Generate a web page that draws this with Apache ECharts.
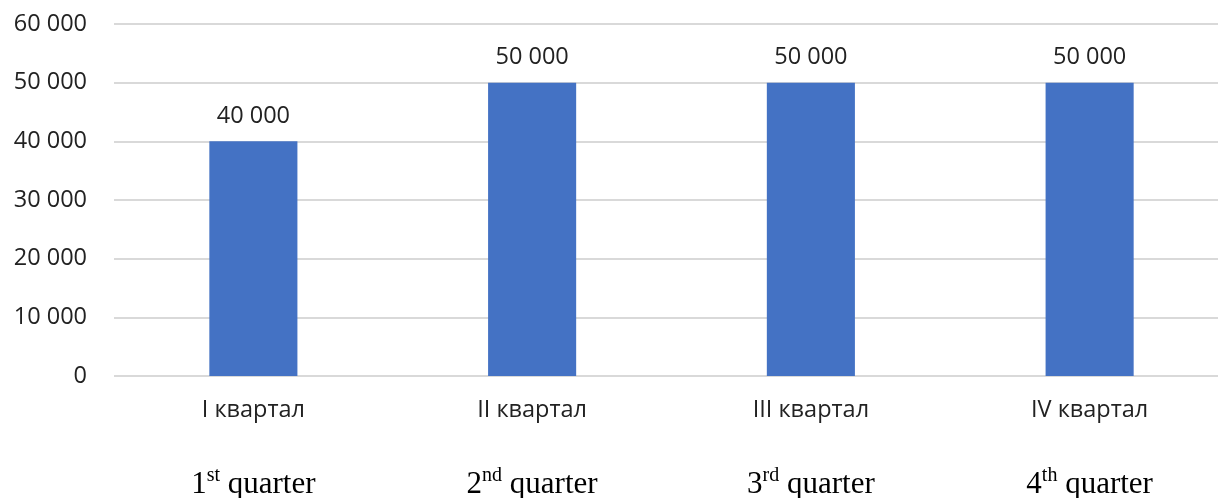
<!DOCTYPE html>
<html>
<head>
<meta charset="utf-8">
<script src="https://cdn.jsdelivr.net/npm/echarts@6/dist/echarts.min.js"></script>
<style>
html,body{margin:0;padding:0;background:#fff;}
#chart{width:1218px;height:498px;}
</style>
</head>
<body>
<div id="chart"></div>
<script>
const categoriesRu = ['I квартал', 'II квартал', 'III квартал', 'IV квартал'];
const categoriesEnNum = ['1', '2', '3', '4'];
const categoriesEnSup = ['st', 'nd', 'rd', 'th'];
const values = [40000, 50000, 50000, 50000];
const yMin = 0, yMax = 60000, yInterval = 10000;

function fmt(v){ return String(v).replace(/\B(?=(\d{3})+(?!\d))/g, ' '); }

const enLabels = categoriesEnNum.map((n, i) => n + '|' + categoriesEnSup[i]);
const txt = '#222222';

const chart = echarts.init(document.getElementById('chart'));
chart.setOption({
  animation: false,
  grid: { left: 114, top: 24, width: 1115, height: 352, containLabel: false, outerBoundsMode: 'none' },
  xAxis: [
    {
      type: 'category',
      data: categoriesRu,
      axisLine: { show: false },
      axisTick: { show: false },
      axisLabel: { color: txt, fontFamily: 'Open Sans', fontSize: 23.5, margin: 22 }
    },
    {
      type: 'category',
      data: enLabels,
      position: 'bottom',
      offset: 90,
      axisLine: { show: false },
      axisTick: { show: false },
      splitLine: { show: false },
      axisLabel: {
        margin: 0,
        formatter: function (v) {
          const p = v.split('|');
          return '{n|' + p[0] + '}{s|' + p[1] + '}{n| quarter}';
        },
        rich: {
          n: { fontFamily: 'Liberation Serif', fontSize: 31, color: '#000', verticalAlign: 'bottom', lineHeight: 34 },
          s: { fontFamily: 'Liberation Serif', fontSize: 20, color: '#000', verticalAlign: 'top', lineHeight: 34, padding: [0, 0, 14, 0] }
        }
      }
    }
  ],
  yAxis: {
    type: 'value',
    min: yMin, max: yMax, interval: yInterval,
    axisLine: { show: false },
    axisTick: { show: false },
    splitLine: { lineStyle: { color: '#D9D9D9', width: 2 } },
    axisLabel: { color: txt, fontFamily: 'Open Sans', fontSize: 23.5, margin: 27, formatter: fmt }
  },
  series: [{
    type: 'bar',
    data: values,
    barWidth: '31.6%',
    itemStyle: { color: '#4472C4' },
    label: {
      show: true, position: 'top', distance: 13,
      color: txt, fontFamily: 'Open Sans', fontSize: 23.5,
      formatter: p => fmt(p.value)
    }
  }]
});
</script>
</body>
</html>
